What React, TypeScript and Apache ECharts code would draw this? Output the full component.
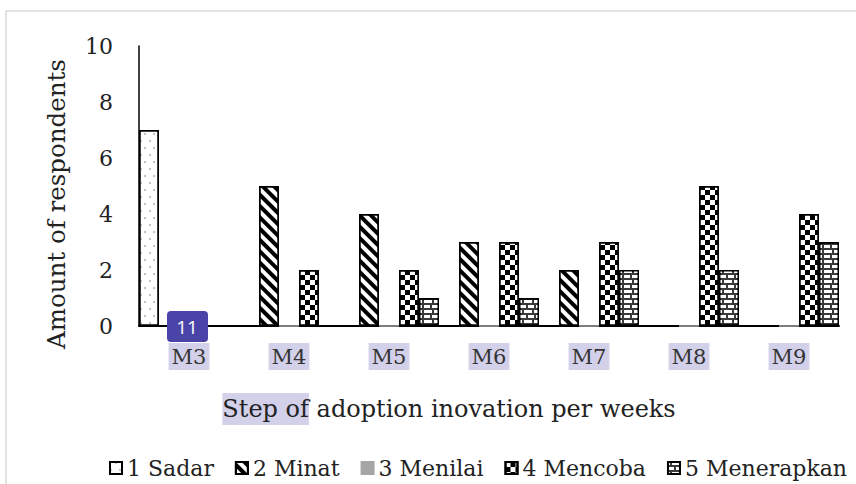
import React, { useEffect, useRef } from "react";
import * as echarts from "echarts";

const categories = ["M3", "M4", "M5", "M6", "M7", "M8", "M9"];
const seriesNames = ["1 Sadar", "2 Minat", "3 Menilai", "4 Mencoba", "5 Menerapkan"];
const sadar = [7, 0, 0, 0, 0, 0, 0];
const minat = [0, 5, 4, 3, 2, 0, 0];
const menilai = [0, 0, 0, 0, 0, 0, 0];
const mencoba = [0, 2, 2, 3, 3, 5, 4];
const menerapkan = [0, 0, 1, 1, 2, 2, 3];
const yTicks = [0, 2, 4, 6, 8, 10];

const FONT = "DejaVu Serif";
const HL = "#d3d0ea";

export default function App() {
  const ref = useRef<HTMLDivElement>(null);
  useEffect(() => {
    if (!ref.current) return;
    const chart = echarts.init(ref.current, null, { renderer: "svg" });
    const decals: any[] = [
      { symbol: "circle", symbolSize: 0.7, dashArrayX: [[2, 7], [0, 5, 2, 2]], dashArrayY: [2, 5], color: "#666", backgroundColor: "#fff" },
      { symbol: "rect", symbolSize: 1, dashArrayX: [1, 0], dashArrayY: [4, 4], rotation: Math.PI / 4, color: "#000", backgroundColor: "#fff" },
      null,
      { symbol: "rect", symbolSize: 1, dashArrayX: [[5, 5], [0, 5, 5, 0]], dashArrayY: [5, 0], color: "#000", backgroundColor: "#fff" },
      { symbol: "rect", symbolSize: 1, dashArrayX: [[6, 2], [2, 2, 6, 0]], dashArrayY: [3, 2], color: "#fff" },
    ];
    const fills = ["#fff", "#fff", "#a6a6a6", "#fff", "#3a3a3a"];
    const datas = [sadar, minat, menilai, mencoba, menerapkan];
    const series = seriesNames.map((name, i) => ({
      name,
      type: "bar",
      data: datas[i],
      barGap: "0%",
      barCategoryGap: "0%",
      itemStyle: {
        color: fills[i],
        borderColor: i === 2 ? "#a6a6a6" : "#000",
        borderWidth: 1.5,
        decal: decals[i] || undefined,
      },
    }));
    chart.setOption({
      animation: false,
      backgroundColor: "#fff",
      textStyle: { fontFamily: FONT },
      grid: { left: 139, top: 46, right: 17, bottom: 158, containLabel: false },
      legend: {
        top: 452,
        left: 104,
        itemWidth: 12,
        itemHeight: 12,
        itemGap: 21,
        icon: "rect",
        textStyle: { fontFamily: FONT, fontSize: 22, color: "#222" },
        data: seriesNames,
      },
      xAxis: {
        type: "category",
        data: categories,
        axisLine: { lineStyle: { color: "#000", width: 2 } },
        axisTick: { show: false },
        axisLabel: {
          margin: 17,
          fontFamily: FONT,
          fontSize: 21,
          color: "#333",
          backgroundColor: HL,
          padding: [3, 3, 3, 3],
        },
        name: "{h|Step of} adoption inovation per weeks",
        nameLocation: "middle",
        nameGap: 67,
        nameTextStyle: {
          fontFamily: FONT,
          fontSize: 24,
          color: "#222",
          padding: [0, 80, 0, 0],
          rich: { h: { fontFamily: FONT, fontSize: 24, color: "#222", backgroundColor: HL, padding: [4, 0, 4, 0] } },
        },
      },
      yAxis: {
        type: "value",
        min: yTicks[0],
        max: yTicks[yTicks.length - 1],
        interval: 2,
        splitLine: { show: false },
        axisLine: { show: true, lineStyle: { color: "#000", width: 1.5 } },
        axisTick: { show: false },
        axisLabel: { fontFamily: FONT, fontSize: 22, color: "#222", margin: 26 },
        name: "Amount of respondents",
        nameLocation: "middle",
        nameGap: 70,
        nameTextStyle: { fontFamily: FONT, fontSize: 24.5, color: "#222", padding: [0, 36, 0, 0] },
      },
      graphic: [
        { type: "rect", shape: { x: 6, y: 11, width: 900, height: 500 }, style: { fill: "none", stroke: "#d9d9d9", lineWidth: 1.5 }, silent: true, z: -1 },
        { type: "rect", shape: { x: 167, y: 311, width: 41, height: 31, r: 4 }, style: { fill: "#4a44a8" }, z: 100 },
        { type: "text", x: 187, y: 327, style: { text: "11", fill: "#fff", font: "19px 'Open Sans'", textAlign: "center", textVerticalAlign: "middle" }, z: 101 },
      ],
      series,
    });
    return () => chart.dispose();
  }, []);
  return <div ref={ref} style={{ position: "fixed", left: 0, top: 0, width: 856, height: 484 }} />;
}
